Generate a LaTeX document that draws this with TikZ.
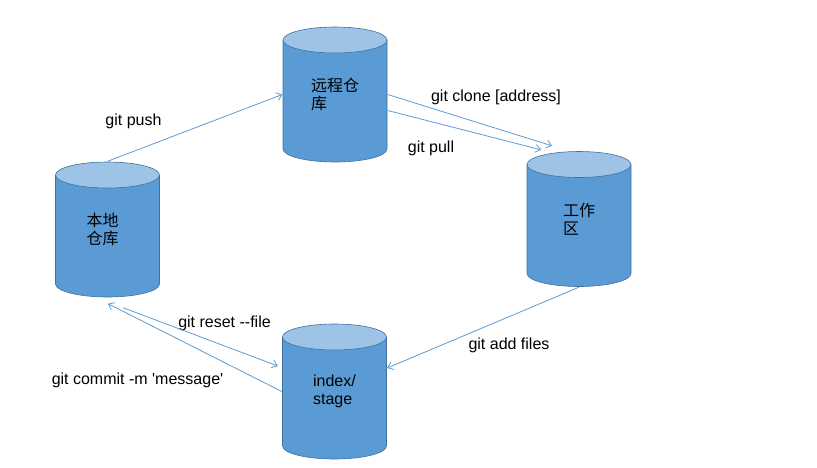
\documentclass[tikz,border=0pt]{standalone}
\usepackage{fontspec}
\newfontfamily\helv{Liberation Sans}
\newfontfamily\cjk{Noto Sans CJK SC}
\usepackage{xcolor}
\usepackage{tikz}
\usetikzlibrary{arrows.meta,calc}

\definecolor{dbbody}{HTML}{5B9BD5}
\definecolor{dbtop}{HTML}{9DC3E6}
\definecolor{dbline}{HTML}{41719C}
\definecolor{arrline}{HTML}{5B9BD5}

\begin{document}
\begin{tikzpicture}[x=1pt, y=-1pt,
        db/.style={rectangle, minimum width=105pt, minimum height=136pt, inner sep=0pt,
                   align=left, font=\helv\fontsize{16}{18}\selectfont,
                   path picture={
                     \fill[dbbody, draw=dbline, line width=0.6pt]
                       ([shift={(0.5pt,-13.5pt)}]path picture bounding box.north west)
                       -- ([shift={(0.5pt,13.5pt)}]path picture bounding box.south west)
                       arc[start angle=180, end angle=360, x radius=52pt, y radius=13pt]
                       -- ([shift={(-0.5pt,-13.5pt)}]path picture bounding box.north east);
                     \filldraw[fill=dbtop, draw=dbline, line width=0.6pt]
                       ([yshift=-13.5pt]path picture bounding box.north)
                       ellipse[x radius=52pt, y radius=13pt];
                   }},
        lbl/.style={font=\helv\fontsize{16}{18}\selectfont, inner sep=0pt},
        arr/.style={-{Straight Barb[length=5pt,width=8pt]}, draw=arrline, line width=0.8pt}
    ]
        \useasboundingbox (0,0) rectangle (817,467);

        % ── Repositories ─────────────────────────────────────────────────
        \node[db] (remote) at (335, 94.5)    {\cjk 远程仓\\\cjk 库};
        \node[db] (local)  at (107.5, 229.5) {\hspace*{-10pt}\cjk 本地\\\hspace*{-10pt}\cjk 仓库};
        \node[db] (work)   at (579, 219)     {\cjk 工作\\\cjk 区};
        \node[db] (stage)  at (334.5, 391.5) {index/\\stage};

        % ── Command labels ───────────────────────────────────────────────
        \node[lbl] (lpush)   at (133.5, 121) {git push};
        \node[lbl] (lclone)  at (496, 97)    {git clone [address]};
        \node[lbl] (lpull)   at (431, 148)   {git pull};
        \node[lbl] (ladd)    at (509, 345)   {git add files};
        \node[lbl] (lreset)  at (224.5, 323) {git reset --file};
        \node[lbl] (lcommit) at (137.5, 380) {git commit -m 'message'};

        % ── Arrows ───────────────────────────────────────────────────────
        \draw[arr] (local.north) -- (remote.west);
        \draw[arr] (remote.east) -- ($(work.north)+(-27,-5)$);
        \draw[arr] ($(remote.east)+(0,16)$) -- ($(work.north)+(-38,-1)$);
        \draw[arr] (work.south) -- ($(stage.east)+(0,-23.5)$);
        \draw[arr] ($(local.south)+(15.5,10)$) -- ($(stage.west)+(-4,-25.5)$);
        \draw[arr] (stage.west) -- ($(local.south)+(0.5,6)$);

    \end{tikzpicture}
\end{document}
